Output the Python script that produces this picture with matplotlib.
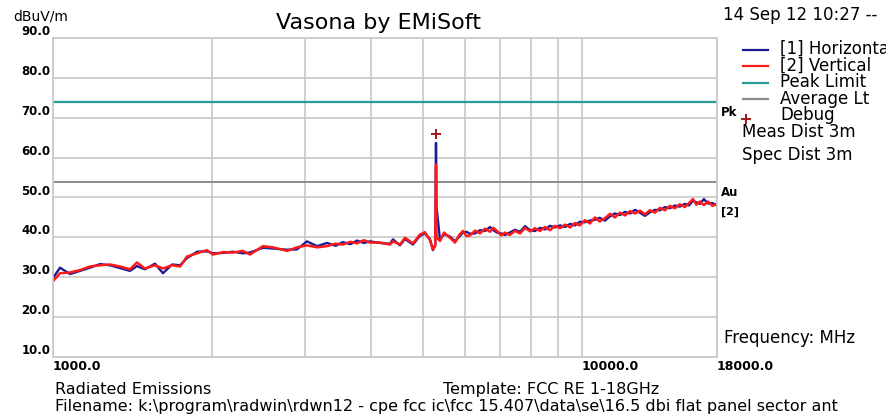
import matplotlib
matplotlib.use("Agg")
import matplotlib.pyplot as plt
from matplotlib.lines import Line2D
from matplotlib.ticker import FixedLocator, NullFormatter

# frequency grid (MHz) and levels (dBuV/m)
freq = [1000, 1031, 1077, 1125, 1175, 1227, 1281, 1339, 1398, 1441, 1492, 1559,
        1614, 1679, 1739, 1792, 1872, 1955, 2006, 2096, 2189, 2287, 2357, 2494,
        2606, 2770, 2893, 3021, 3156, 3296, 3420, 3533, 3650, 3756, 3870, 3974,
        4151, 4336, 4393, 4529, 4628, 4792, 4940, 5048, 5159, 5227, 5280, 5297,
        5310, 5390, 5485, 5630, 5754, 5860, 5957, 6050, 6142, 6280, 6416, 6560,
        6701, 6800, 6908, 7030, 7153, 7300, 7471, 7640, 7803, 7980, 8150, 8330,
        8514, 8700, 8892, 9090, 9288, 9500, 9700, 9900, 10130, 10350, 10580,
        10800, 11050, 11300, 11540, 11800, 12060, 12330, 12600, 12870, 13150,
        13440, 13740, 14040, 14350, 14660, 14990, 15310, 15650, 15930, 16210,
        16450, 16710, 17000, 17300, 17650, 18000]

vertical = [29.0, 31.0, 31.2, 31.8, 32.7, 33.0, 33.2, 32.7, 32.0, 33.7, 32.2, 33.0,
            32.2, 33.0, 32.7, 35.2, 36.0, 36.8, 35.7, 36.3, 36.2, 36.6, 35.7, 37.8,
            37.5, 36.6, 37.5, 38.0, 37.5, 37.8, 38.4, 38.2, 38.9, 38.5, 39.3, 38.7,
            38.7, 38.2, 39.0, 38.2, 39.9, 38.5, 40.7, 41.3, 39.3, 37.0, 37.8, 58.2,
            40.0, 39.1, 41.2, 39.9, 38.7, 40.6, 41.6, 40.3, 40.5, 41.7, 41.0, 42.2,
            41.4, 42.4, 41.6, 40.5, 41.2, 40.6, 41.6, 41.0, 42.4, 41.5, 42.3, 41.6,
            42.6, 41.8, 42.9, 42.3, 43.2, 42.5, 43.6, 43.0, 44.3, 43.5, 45.0,
            44.0, 44.8, 45.9, 45.0, 46.2, 45.5, 46.6, 46.0, 46.7, 45.8,
            46.8, 46.2, 47.4, 46.8, 47.9, 47.3, 48.3, 47.6, 48.6, 49.6,
            48.2, 49.0, 48.1, 49.0, 47.9, 48.4]

horizontal = [29.8, 32.4, 30.8, 31.6, 32.4, 33.3, 33.0, 32.3, 31.6, 32.8, 32.0, 33.4,
              31.0, 33.2, 33.0, 34.8, 36.4, 36.5, 36.0, 36.1, 36.4, 36.0, 36.2, 37.4,
              37.2, 36.9, 37.0, 39.0, 37.8, 38.6, 37.9, 38.8, 38.3, 39.2, 38.6, 39.0,
              38.6, 38.4, 39.5, 38.0, 39.6, 38.2, 40.4, 41.0, 39.6, 36.8, 38.2, 63.7,
              47.5, 39.4, 40.8, 40.2, 39.0, 40.2, 41.2, 41.4, 40.9, 41.0, 41.8, 41.6,
              42.6, 41.8, 41.2, 41.0, 40.6, 41.2, 41.9, 41.4, 42.8, 41.8, 41.6, 42.4,
              42.0, 42.9, 42.5, 43.0, 42.6, 43.4, 43.0, 43.9, 43.8, 44.2, 44.4,
              44.9, 44.2, 45.3, 46.0, 45.6, 46.4, 46.0, 46.9, 46.2, 45.4,
              46.3, 46.9, 46.8, 47.6, 47.3, 48.0, 47.7, 48.4, 48.0, 49.2,
              48.8, 48.4, 49.6, 48.5, 48.6, 48.0]

peak_limit = 74.0
average_limit = 54.0
debug_freq = [5297]
debug_level = [65.9]

y_ticks = [10, 20, 30, 40, 50, 60, 70, 80, 90]
x_major = [1000, 10000, 18000]
x_minor = [2000, 3000, 4000, 5000, 6000, 7000, 8000, 9000]

W, H = 886, 419
fig = plt.figure(figsize=(W / 100, H / 100), dpi=100)
fig.patch.set_facecolor("white")


def px(x, y):
    return x / W, 1 - y / H


ax = fig.add_axes([53 / W, 1 - 357 / H, (717 - 53) / W, (357 - 38) / H])
ax.set_xscale("log")
ax.set_xlim(1000, 18000)
ax.set_ylim(10, 90)

grid_col = "#c8c8c8"
for s in ax.spines.values():
    s.set_color(grid_col)
    s.set_linewidth(1.2)

ax.xaxis.set_major_locator(FixedLocator(x_major))
ax.xaxis.set_minor_locator(FixedLocator(x_minor))
ax.xaxis.set_minor_formatter(NullFormatter())
ax.set_xticklabels(["%.1f" % v for v in x_major])
ax.set_yticks(y_ticks)
ax.set_yticklabels(["%.1f" % v for v in y_ticks])
ax.tick_params(axis="x", which="both", length=0, labelsize=9, pad=2)
ax.tick_params(axis="y", which="both", length=0, labelsize=8.5, pad=2)
for lab in ax.get_xticklabels():
    lab.set_horizontalalignment("left")
    lab.set_fontweight("bold")
for lab in ax.get_yticklabels():
    lab.set_verticalalignment("bottom")
    lab.set_fontweight("bold")

ax.grid(True, which="both", axis="x", color=grid_col, lw=1.2)
ax.grid(True, which="major", axis="y", color=grid_col, lw=1.2)
ax.set_axisbelow(True)

ax.axhline(peak_limit, color="#2a9a96", lw=1.6)
ax.axhline(average_limit, color="#8a8a8a", lw=1.4)
ax.plot(freq, horizontal, color="#1c1c96", lw=1.7)
ax.plot(freq, vertical, color="#ff1a1a", lw=1.8)
ax.plot(debug_freq, debug_level, "+", color="#a01818", ms=7, mew=1.4)

# titles and captions
fig.text(*px(378, 23), "Vasona by EMiSoft", fontsize=16, ha="center", va="center")
fig.text(*px(13, 17), "dBuV/m", fontsize=10, ha="left", va="center")
fig.text(*px(723, 15), "14 Sep 12 10:27 --", fontsize=12, ha="left", va="center")
fig.text(*px(721, 113), "Pk", fontsize=8.5, fontweight="bold", ha="left", va="center")
fig.text(*px(721, 192), "Au", fontsize=8.5, fontweight="bold", ha="left", va="center")
fig.text(*px(721, 212), "[2]", fontsize=8, fontweight="bold", ha="left", va="center")

# legend
leg_items = [("[1] Horizontal", "#1c1c96"), ("[2] Vertical", "#ff1a1a"),
             ("Peak Limit", "#2a9a96"), ("Average Lt", "#8a8a8a")]
for i, (name, col) in enumerate(leg_items):
    y = 50 + i * 16.5
    x0, y0 = px(743, y)
    x1, _ = px(768, y)
    fig.add_artist(Line2D([x0, x1], [y0, y0], color=col, lw=1.6))
    fig.text(*px(780, y - 1), name, fontsize=12, ha="left", va="center")
mx, my = px(746, 119)
fig.add_artist(Line2D([mx], [my], marker="+", color="#a01818", ms=7, mew=1.4))
fig.text(*px(780, 115), "Debug", fontsize=12, ha="left", va="center")
fig.text(*px(742, 132), "Meas Dist 3m", fontsize=12, ha="left", va="center")
fig.text(*px(742, 155), "Spec Dist 3m", fontsize=12, ha="left", va="center")

fig.text(*px(724, 338), "Frequency: MHz", fontsize=12, ha="left", va="center")
fig.text(*px(55, 389), "Radiated Emissions", fontsize=11.5, ha="left", va="center")
fig.text(*px(443, 389), "Template: FCC RE 1-18GHz", fontsize=11.5, ha="left", va="center")
fig.text(*px(55, 406),
         "Filename: k:\\program\\radwin\\rdwn12 - cpe fcc ic\\fcc 15.407\\data\\se\\16.5 dbi flat panel sector ant",
         fontsize=11.5, ha="left", va="center")

fig.savefig("out.png", dpi=100, facecolor="white")
